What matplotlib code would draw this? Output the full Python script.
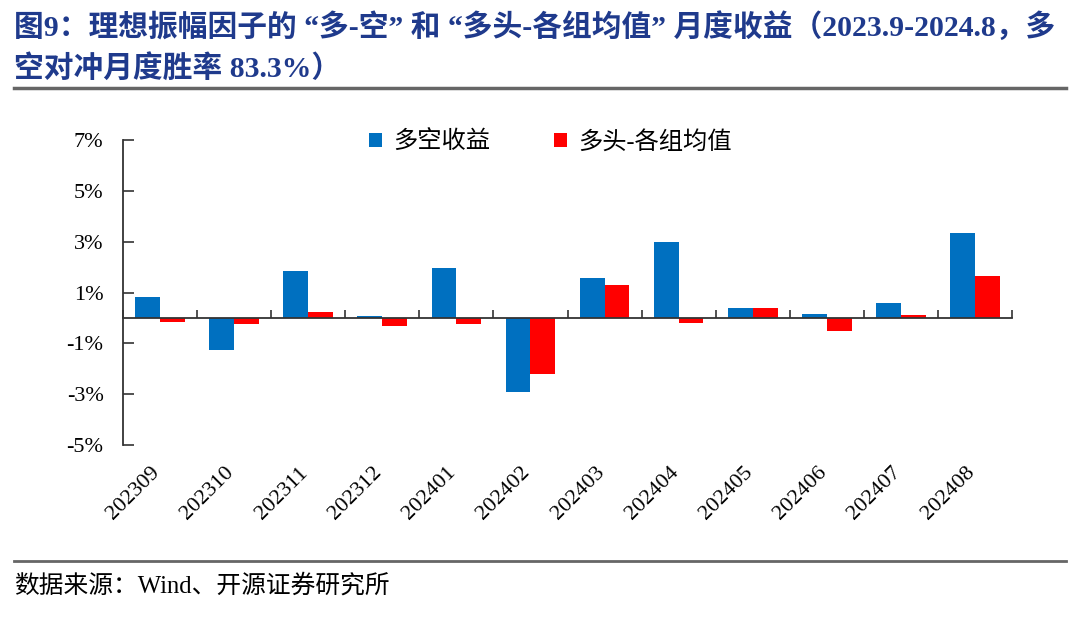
import matplotlib
matplotlib.use("Agg")
import matplotlib.pyplot as plt
from matplotlib.lines import Line2D
from matplotlib.patches import Patch
import numpy as np

categories = ["202309", "202310", "202311", "202312", "202401", "202402",
              "202403", "202404", "202405", "202406", "202407", "202408"]
long_short = [0.83, -1.28, 1.85, 0.08, 1.96, -2.90, 1.59, 2.99, 0.40, 0.15, 0.59, 3.35]
long_avg = [-0.15, -0.22, 0.24, -0.33, -0.22, -2.20, 1.30, -0.20, 0.40, -0.50, 0.12, 1.64]
series_names = ["多空收益", "多头-各组均值"]
yticks = [7, 5, 3, 1, -1, -3, -5]
ytick_labels = ["7%", "5%", "3%", "1%", "-1%", "-3%", "-5%"]
title_lines = ["图9：理想振幅因子的 “多-空” 和 “多头-各组均值” 月度收益（2023.9-2024.8，多",
               "空对冲月度胜率 83.3%）"]
source = "数据来源：Wind、开源证券研究所"

FAM = ["Liberation Serif", "Noto Sans CJK SC"]
plt.rcParams["font.family"] = FAM

fig = plt.figure(figsize=(10.8, 6.23), dpi=100)
ax = fig.add_axes([123/1080, 1-445/623, (1012-123)/1080, (445-140)/623])

x = np.arange(len(categories))
w = 0.335
ax.bar(x - w/2, long_short, w, color="#0070C0", label=series_names[0], zorder=2)
ax.bar(x + w/2, long_avg, w, color="#FF0000", label=series_names[1], zorder=2)

ax.set_xlim(-0.5, len(categories) - 0.5)
ax.set_ylim(-5, 7)
ax.set_yticks(yticks)
ax.set_yticklabels(ytick_labels, fontsize=16, family=FAM)
ax.tick_params(axis="y", direction="in", length=8, width=1.2, color="#333333", pad=14)

for s in ["top", "right"]:
    ax.spines[s].set_visible(False)
ax.spines["left"].set_color("#333333")
ax.spines["left"].set_linewidth(1.3)
ax.spines["bottom"].set_position(("data", 0))
ax.spines["bottom"].set_color("#333333")
ax.spines["bottom"].set_linewidth(1.3)
ax.set_xticks(x)
ax.set_xticklabels([])
ax.tick_params(axis="x", which="major", length=0)
ax.set_xticks(np.arange(len(categories) + 1) - 0.5, minor=True)
ax.tick_params(axis="x", which="minor", direction="in", length=6, width=1.2, color="#333333")

tr = ax.get_xaxis_transform()
for i, c in enumerate(categories):
    ax.text(i + 0.05, -0.06, c, transform=tr, rotation=45, ha="right", va="top",
            fontsize=16, family=FAM, rotation_mode="default")

handles = [Patch(facecolor="#0070C0"), Patch(facecolor="#FF0000")]
fig.legend(handles, series_names, loc="center", bbox_to_anchor=(0.5095, 1-142/623),
           ncol=2, frameon=False, handlelength=0.55, handleheight=0.55,
           handletextpad=0.45, columnspacing=2.6, prop={"family": FAM, "size": 17.5})

title_color = "#1F3A8C"
fig.text(14/1080, 1-27/623, title_lines[0], fontsize=21.4, fontweight="bold",
         color=title_color, va="center", ha="left", family=FAM)
fig.text(14/1080, 1-68/623, title_lines[1], fontsize=21.4, fontweight="bold",
         color=title_color, va="center", ha="left", family=FAM)

fig.add_artist(Line2D([14/1080, 1066/1080], [1-88/623, 1-88/623], color="#666666", lw=2.5))
fig.add_artist(Line2D([14/1080, 1066/1080], [1-561/623, 1-561/623], color="#666666", lw=2))

fig.text(14/1080, 1-586/623, source, fontsize=17.8, color="black", va="center", ha="left",
         family=FAM)

fig.savefig("out.png", dpi=100)
